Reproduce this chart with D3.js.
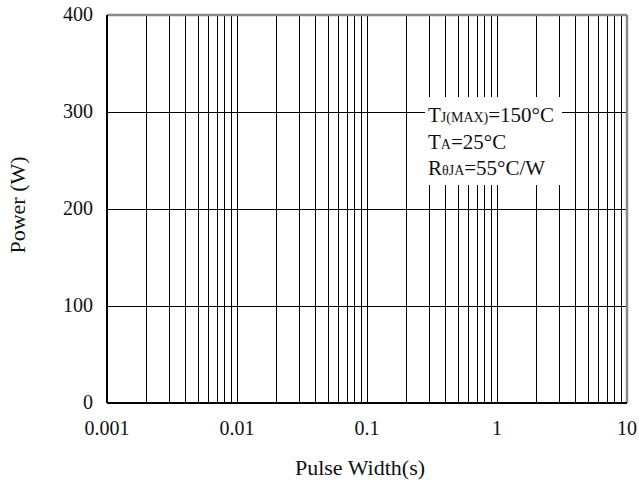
<!DOCTYPE html>
<html>
<head>
<meta charset="utf-8">
<script src="https://cdn.jsdelivr.net/npm/d3@7"></script>
<style>
  body { margin: 0; background: #fff; }
  text { font-family: "Liberation Serif", "Times New Roman", serif; fill: #111; }
</style>
</head>
<body>
<svg width="639" height="484"></svg>
<script>
let xTicks = [0.001, 0.01, 0.1, 1, 10];
let xTickLabels = ["0.001", "0.01", "0.1", "1", "10"];
let yTicks = [0, 100, 200, 300, 400];
let legendLines = [
  [["T", "big"], ["J(MAX)", "sub"], ["=150°C", "big"]],
  [["T", "big"], ["A", "sub"], ["=25°C", "big"]],
  [["R", "big"], ["θJA", "sub"], ["=55°C/W", "big"]],
];

let svg = d3.select("svg"),
  marginLeft = 107,
  marginTop = 15,
  width = 627 - marginLeft,
  height = 403 - marginTop;

let xScale = d3.scaleLog().domain([0.001, 10]).range([0, width]),
  yScale = d3.scaleLinear().domain([0, 400]).range([height, 0]);

let g = svg.append("g").attr("transform", "translate(" + marginLeft + "," + marginTop + ")");

// minor + major vertical grid
let vLines = [];
for (let e = -3; e < 1; e++) {
  for (let m = 1; m < 10; m++) vLines.push(m * Math.pow(10, e));
}

g.append("g")
  .selectAll("line")
  .data(vLines)
  .enter()
  .append("line")
  .attr("x1", (d) => Math.round(xScale(d)) + 0.5)
  .attr("x2", (d) => Math.round(xScale(d)) + 0.5)
  .attr("y1", 0)
  .attr("y2", height)
  .attr("stroke", "#000")
  .attr("stroke-width", 1);

g.append("g")
  .selectAll("line")
  .data(yTicks)
  .enter()
  .append("line")
  .attr("x1", 0)
  .attr("x2", width)
  .attr("y1", (d) => Math.round(yScale(d)) + 0.5)
  .attr("y2", (d) => Math.round(yScale(d)) + 0.5)
  .attr("stroke", "#000")
  .attr("stroke-width", 1);

// frame
g.append("line").attr("x1", 0).attr("x2", width).attr("y1", 0).attr("y2", 0)
  .attr("stroke", "#888").attr("stroke-width", 2.5);
g.append("line").attr("x1", width).attr("x2", width).attr("y1", 0).attr("y2", height)
  .attr("stroke", "#888").attr("stroke-width", 2.5);
g.append("line").attr("x1", 0).attr("x2", 0).attr("y1", 0).attr("y2", height)
  .attr("stroke", "#000").attr("stroke-width", 2);
g.append("line").attr("x1", 0).attr("x2", width).attr("y1", height).attr("y2", height)
  .attr("stroke", "#000").attr("stroke-width", 2);

// tick labels
g.append("g")
  .selectAll("text")
  .data(yTicks)
  .enter()
  .append("text")
  .attr("x", -14)
  .attr("y", (d) => yScale(d) + 6)
  .attr("text-anchor", "end")
  .attr("font-size", 20)
  .text((d) => d);

g.append("g")
  .selectAll("text")
  .data(xTicks)
  .enter()
  .append("text")
  .attr("x", (d) => xScale(d))
  .attr("y", height + 32)
  .attr("text-anchor", "middle")
  .attr("font-size", 20)
  .text((d, i) => xTickLabels[i]);

// axis titles
svg.append("text")
  .attr("transform", "translate(25,205) rotate(-90)")
  .attr("text-anchor", "middle")
  .attr("font-size", 22)
  .text("Power (W)");

svg.append("text")
  .attr("x", 360)
  .attr("y", 475)
  .attr("text-anchor", "middle")
  .attr("font-size", 22)
  .text("Pulse Width(s)");

// legend box
svg.append("rect")
  .attr("x", 425)
  .attr("y", 97)
  .attr("width", 137)
  .attr("height", 88)
  .attr("fill", "#fff");

let legend = svg.append("g");
legendLines.forEach(function (line, i) {
  let t = legend.append("text")
    .attr("x", 428)
    .attr("y", 122 + i * 26.5);
  line.forEach(function (part) {
    t.append("tspan")
      .attr("font-size", part[1] == "big" ? 21 : 14)
      .text(part[0]);
  });
});
</script>
</body>
</html>
